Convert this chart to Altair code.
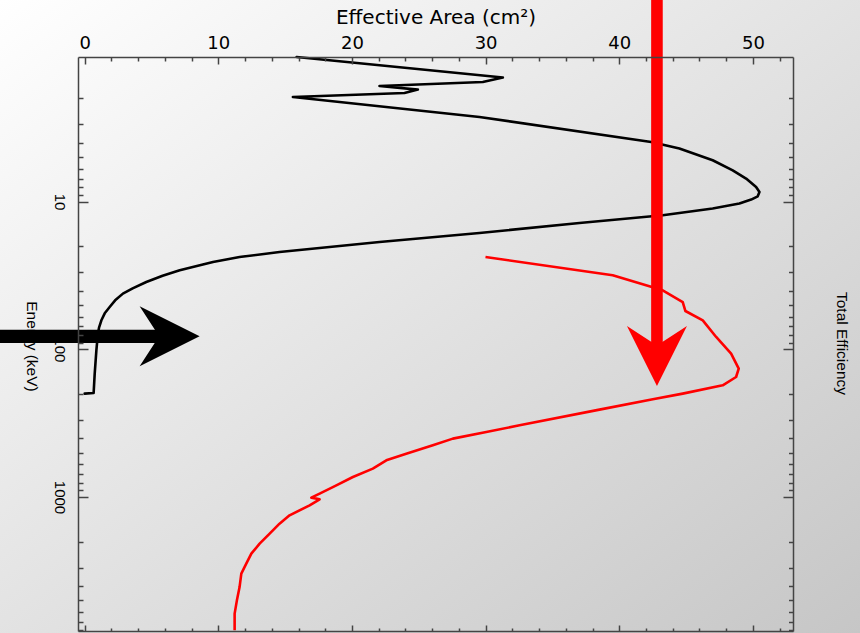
import altair as alt
import pandas as pd

# Effective area (cm^2) against photon energy (keV)
area_energy_kev = [1.05, 1.447, 1.55, 1.65, 1.745, 1.84, 1.958, 2.674, 3.95, 4.377,
                   5.25, 6.14, 6.99, 7.96, 8.61, 9.21, 9.69, 10.3, 11.15, 12.38,
                   13.96, 16.32, 18.77, 21.94, 23.72, 25.64, 29.18, 31.80, 35.03, 38.64,
                   41.97, 46.6, 51.7, 57.06, 63.6, 70.98, 78.3, 101.6, 146.0, 197.7,
                   199.5]
area_cm2 = [15.86, 31.29, 29.79, 22.06, 24.93, 23.93, 15.58, 29.54, 42.39, 44.50,
            46.99, 48.49, 49.49, 50.24, 50.49, 50.36, 49.87, 48.99, 46.99, 43.25,
            37.02, 29.54, 22.06, 14.58, 11.59, 9.60, 7.11, 5.83, 4.61, 3.59,
            2.86, 2.28, 1.87, 1.50, 1.25, 1.08, 0.99, 0.875, 0.75, 0.67,
            0.0]

# Total efficiency trace, drawn against the same horizontal scale
eff_energy_kev = [23.72, 31.55, 39.86, 47.84, 55.05, 63.64, 82.5, 106.9, 135.1, 154.0,
                  175.3, 199.5, 218.1, 256.0, 327.0, 362.9, 402.3, 446.7, 508.4, 564.2,
                  642.1, 732.0, 833.3, 948.4, 1009.5, 1036.6, 1138.0, 1330.0, 1514.0, 1769.0,
                  2068.0, 2416.0, 2824.0, 3300.0, 4068.0, 5005.0, 6157.0, 7990.0]
eff_value = [29.99, 39.51, 43.25, 44.75, 44.95, 46.25, 47.25, 48.37, 48.94, 48.74,
             47.74, 44.75, 42.51, 38.52, 32.54, 30.05, 27.55, 26.05, 24.06, 22.57,
             21.56, 20.07, 18.83, 17.58, 16.96, 17.58, 16.83, 15.33, 14.58, 13.84,
             13.09, 12.47, 12.09, 11.72, 11.59, 11.39, 11.22, 11.22]

# Axis tick positions
area_major = [0, 10, 20, 30, 40, 50]
area_minor = [v for v in range(2, 53, 2) if v % 10]
energy_major = [10, 100, 1000]
energy_minor = [m * d for d in (1, 10, 100, 1000) for m in range(2, 10) if m * d <= 8000]

# Arrow annotations, in data units
black_arrow_energy = [81.7]
black_arrow_tail_area = [-7.5]
black_arrow_neck_area = [6.0]
black_arrow_tip_area = [8.6]

red_arrow_area = [42.82]
red_arrow_tail_energy = [0.37]
red_arrow_neck_energy = [110.0]
red_arrow_tip_energy = [177.2]

W, H = 715, 574
AX = "#444444"
WIDE = "DejaVu Sans"
SIDE = "Liberation Sans Narrow, Liberation Sans, sans-serif"
ARROW_HEAD = "M0,0L-2,-1L-1.35,0L-2,1Z"

x_scale = alt.Scale(domain=[-0.5, 53], nice=False, zero=False)
y_scale = alt.Scale(type="log", domain=[1.05, 8070], nice=False, reverse=True)


def tick_axis(orient, values, size, offset, domain=False):
    return alt.Axis(orient=orient, values=values, labels=False, ticks=True,
                    tickSize=size, tickColor=AX, tickWidth=1.5, domain=domain,
                    domainColor=AX, domainWidth=1.5, grid=False, offset=offset,
                    title=None, zindex=1)


top_labels = alt.Axis(
    orient="top", values=area_major, format="d", ticks=False, tickSize=0,
    labelPadding=5, labelFont=WIDE, labelFontSize=18, labelColor="black",
    labelFlush=False, labelOverlap=False, domain=True, domainColor=AX,
    domainWidth=1.5, grid=False, title="Effective Area (cm²)", titleFont=WIDE,
    titleFontSize=20, titleFontWeight="normal", titleColor="black",
    titleX=W / 2, titleY=-34, titleBaseline="alphabetic", titleAlign="center",
    zindex=1)

left_labels = alt.Axis(
    orient="left", values=energy_major, format="d", ticks=False, tickSize=0,
    labelPadding=12, labelAngle=90, labelAlign="center", labelBaseline="top",
    labelFont=SIDE, labelFontSize=15, labelColor="black", labelFlush=False,
    labelOverlap=False, domain=True, domainColor=AX, domainWidth=1.5, grid=False,
    title="Energy (keV)", titleAngle=90, titleFont=SIDE, titleFontSize=15.5,
    titleFontWeight="normal", titleColor="black", titleX=-52, titleY=289,
    titleBaseline="alphabetic", titleAlign="center", zindex=1)

right_title = alt.Axis(
    orient="right", labels=False, ticks=False, domain=False, grid=False,
    title="Total Efficiency", titleAngle=90, titleFont=SIDE, titleFontSize=15.5,
    titleFontWeight="normal", titleColor="black", titleX=43, titleY=286,
    titleBaseline="alphabetic", titleAlign="center", zindex=1)

area_df = pd.DataFrame({"i": range(len(area_cm2)), "energy": area_energy_kev, "area": area_cm2})
eff_df = pd.DataFrame({"i": range(len(eff_value)), "energy": eff_energy_kev, "value": eff_value})
black_arrow_df = pd.DataFrame({"e": black_arrow_energy, "a0": black_arrow_tail_area,
                               "a1": black_arrow_neck_area, "tip": black_arrow_tip_area})
red_arrow_df = pd.DataFrame({"a": red_arrow_area, "e0": red_arrow_tail_energy,
                             "e1": red_arrow_neck_energy, "tip": red_arrow_tip_energy})

gradient = alt.LinearGradient(
    gradient="linear",
    stops=[alt.GradientStop(color="#ffffff", offset=0),
           alt.GradientStop(color="#c6c6c6", offset=1)],
    x1=0, y1=0, x2=1, y2=1)

background = alt.Chart(pd.DataFrame({"k": [0]})).mark_rect(
    fill=gradient, opacity=1, strokeWidth=0
).encode(x=alt.value(-78), x2=alt.value(W + 67), y=alt.value(-57), y2=alt.value(H + 2))

area_line = alt.Chart(area_df).mark_line(
    color="black", strokeWidth=2.6, strokeJoin="round", strokeCap="round"
).encode(
    x=alt.X("area:Q", scale=x_scale, axis=top_labels),
    y=alt.Y("energy:Q", scale=y_scale, axis=left_labels),
    order="i:Q")

eff_line = alt.Chart(eff_df).mark_line(
    color="#ff0000", strokeWidth=2.6, strokeJoin="round"
).encode(
    x=alt.X("value:Q", scale=x_scale, axis=tick_axis("bottom", area_major, 7, -H)),
    y=alt.Y("energy:Q", scale=y_scale, axis=tick_axis("right", energy_major, 10, -W)),
    order="i:Q")

black_shaft = alt.Chart(black_arrow_df).mark_rule(
    color="black", strokeWidth=13.4, strokeCap="butt"
).encode(
    x=alt.X("a0:Q", scale=x_scale, axis=tick_axis("bottom", area_minor, 4, -H)),
    x2="a1:Q",
    y=alt.Y("e:Q", scale=y_scale, axis=tick_axis("right", energy_minor, 5, -W)))

black_head = alt.Chart(black_arrow_df).mark_point(
    shape=ARROW_HEAD, size=3600, filled=True, color="black", opacity=1, strokeWidth=0
).encode(
    x=alt.X("tip:Q", scale=x_scale, axis=tick_axis("top", area_major, 6, -H, domain=True)),
    y=alt.Y("e:Q", scale=y_scale, axis=tick_axis("left", energy_major, 10, -W, domain=True)))

red_shaft = alt.Chart(red_arrow_df).mark_rule(
    color="#ff0000", strokeWidth=11.6, strokeCap="butt"
).encode(
    x=alt.X("a:Q", scale=x_scale, axis=tick_axis("top", area_minor, 3, -H)),
    y=alt.Y("e0:Q", scale=y_scale, axis=tick_axis("left", energy_minor, 4.5, -W)),
    y2="e1:Q")

red_head = alt.Chart(red_arrow_df).mark_point(
    shape=ARROW_HEAD, size=3600, filled=True, color="#ff0000", opacity=1,
    strokeWidth=0, angle=90
).encode(
    x=alt.X("a:Q", scale=x_scale, axis=None),
    y=alt.Y("tip:Q", scale=y_scale, axis=right_title))

chart = alt.layer(
    background, area_line, eff_line, black_shaft, black_head, red_shaft, red_head
).resolve_axis(
    x="independent", y="independent"
).properties(
    width=W, height=H,
    autosize=alt.AutoSizeParams(type="none"),
    padding={"left": 78, "top": 57, "right": 67, "bottom": 2},
).configure_view(stroke=None)

chart.save("out.html", embed_options={"renderer": "svg", "actions": False})
